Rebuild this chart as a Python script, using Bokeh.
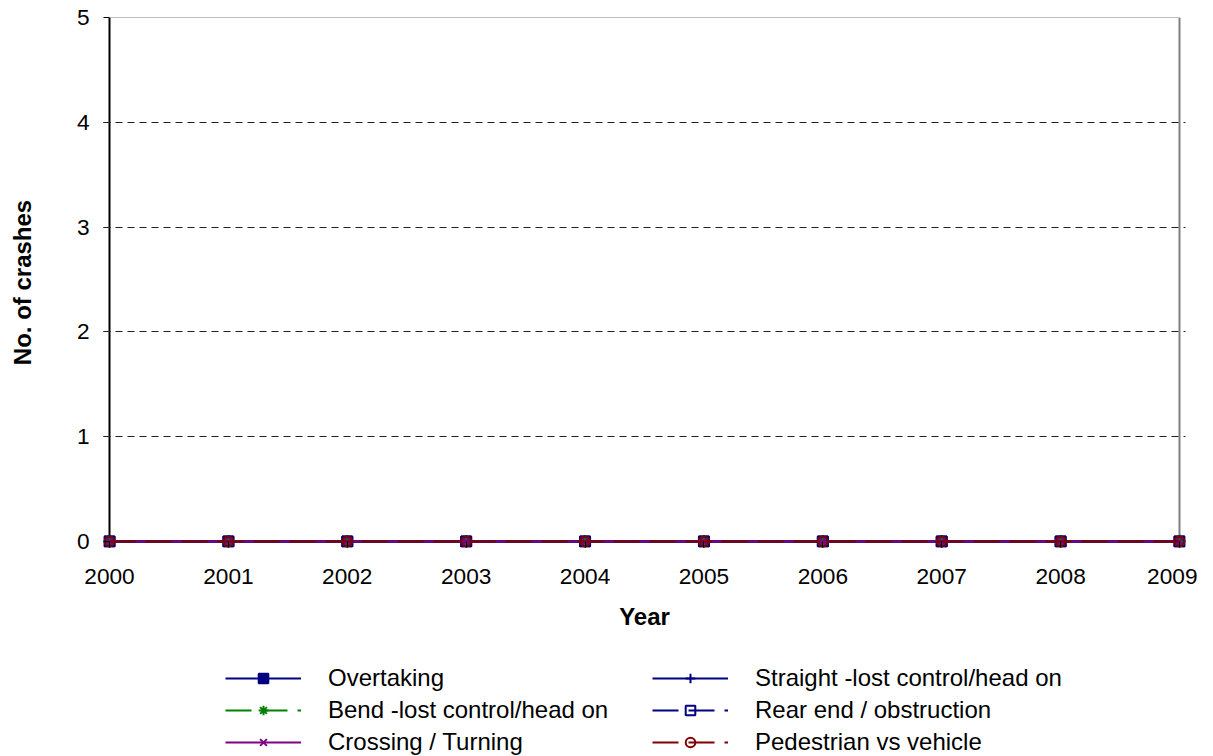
from bokeh.plotting import figure
from bokeh.models import Range1d, Legend, LegendItem, FixedTicker
from bokeh.layouts import column
from bokeh.embed import file_html
from bokeh.resources import INLINE

years = [2000, 2001, 2002, 2003, 2004, 2005, 2006, 2007, 2008, 2009]
overtaking = [0, 0, 0, 0, 0, 0, 0, 0, 0, 0]
straight = [0, 0, 0, 0, 0, 0, 0, 0, 0, 0]
bend = [0, 0, 0, 0, 0, 0, 0, 0, 0, 0]
rear_end = [0, 0, 0, 0, 0, 0, 0, 0, 0, 0]
crossing = [0, 0, 0, 0, 0, 0, 0, 0, 0, 0]
pedestrian = [0, 0, 0, 0, 0, 0, 0, 0, 0, 0]
y_ticks = [0, 1, 2, 3, 4, 5]

FONT = "Liberation Sans"

# small padding so that markers on the range edges are not clipped
x0, x1 = years[0], years[-1]
y0, y1 = y_ticks[0], y_ticks[-1]
xpad = 6.0 * (x1 - x0) / 1070.0
ypad = 6.0 * (y1 - y0) / 524.0

p = figure(width=1197, height=650, output_backend="svg", toolbar_location=None,
           x_range=Range1d(x0 - xpad, x1 + xpad), y_range=Range1d(y0 - ypad, y1),
           min_border_left=103, min_border_right=12, min_border_top=17,
           min_border_bottom=103)
p.outline_line_color = None
p.background_fill_color = "white"
p.border_fill_color = "white"

p.xgrid.visible = False
p.ygrid.ticker = FixedTicker(ticks=y_ticks[1:])
p.ygrid.grid_line_color = "#202020"
p.ygrid.grid_line_dash = "7 5"
p.ygrid.grid_line_width = 1
p.ygrid.bounds = (x0, x1)
p.ygrid.level = "overlay"

for ax in (p.xaxis[0], p.yaxis[0]):
    ax.axis_line_color = None
    ax.major_tick_line_color = "black"
    ax.major_tick_line_width = 1
    ax.major_tick_in = 6
    ax.major_tick_out = 0
    ax.minor_tick_line_color = None
    ax.major_label_text_font = FONT
    ax.major_label_text_font_size = "17pt"
    ax.major_label_text_color = "black"
    ax.axis_label_text_font = FONT
    ax.axis_label_text_font_size = "18pt"
    ax.axis_label_text_font_style = "bold"
    ax.axis_label_text_color = "black"

p.xaxis.ticker = FixedTicker(ticks=years)
p.yaxis.ticker = FixedTicker(ticks=y_ticks)
p.xaxis.axis_label = "Year"
p.yaxis.axis_label = "No. of crashes"
p.xaxis.major_label_standoff = 21
p.xaxis.axis_label_standoff = 16
p.yaxis.major_label_standoff = 14
p.yaxis.axis_label_standoff = 38

# axis lines (black) and plot-area border (gray)
p.line([x0, x0], [y0, y1], line_color="black", line_width=2)
p.line([x0, x1], [y0, y0], line_color="black", line_width=2)
p.line([x1, x1], [y0, y1], line_color="#808080", line_width=2)
p.line([x0, x1], [y1, y1], line_color="#808080", line_width=1)

series = [
    ("Overtaking", overtaking, "#000080", None, "square", "#000080", "#000080", 10),
    ("Straight -lost control/head on", straight, "#000080", None, "cross", "#000080", None, 12),
    ("Bend -lost control/head on", bend, "#008000", "26 10", "asterisk", "#008000", None, 12),
    ("Rear end / obstruction", rear_end, "#000080", "26 10", "square", "#000080", None, 10),
    ("Crossing / Turning", crossing, "#800080", None, "x", "#800080", None, 10),
    ("Pedestrian vs vehicle", pedestrian, "#800000", "26 10", "circle", "#800000", None, 10),
]

# legend lives in its own figure below the chart (its own glyphs fall outside its view)
lf = figure(width=1197, height=106, output_backend="svg", toolbar_location=None,
            x_range=Range1d(0, 1), y_range=Range1d(0, 1),
            x_axis_type=None, y_axis_type=None, min_border=0)
lf.outline_line_color = None
lf.background_fill_color = "white"
lf.border_fill_color = "white"

items = []
for name, vals, col, dash, marker, mcol, mfill, msize in series:
    kw = {}
    if dash:
        kw["line_dash"] = dash
    p.line(years, vals, line_color=col, line_width=2, **kw)
    p.scatter(years, vals, marker=marker, size=msize, line_color=mcol,
              line_width=2, fill_color=mfill if mfill else None)
    l1 = lf.line(years, vals, line_color=col, line_width=2, **kw)
    l2 = lf.scatter(years, vals, marker=marker, size=msize, line_color=mcol,
                    line_width=2, fill_color=mfill if mfill else None)
    items.append(LegendItem(label=name, renderers=[l1, l2]))

order = [0, 2, 4, 1, 3, 5]
legend = Legend(items=[items[i] for i in order], ncols=2, location=(122, 0),
                orientation="vertical",
                label_text_font=FONT, label_text_font_size="18pt",
                label_text_color="black",
                glyph_width=76, glyph_height=24, label_height=24,
                label_width=320, label_standoff=27, spacing=4,
                border_line_color=None, background_fill_alpha=0,
                padding=0, margin=0)
lf.add_layout(legend, "center")

layout = column(p, lf, spacing=0)
open("out.html", "w").write(file_html(layout, INLINE))
